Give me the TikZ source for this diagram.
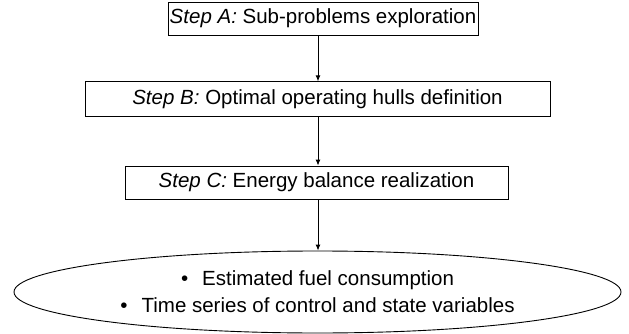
\documentclass[tikz,border=0pt]{standalone}
\usepackage{fontspec}
\setmainfont{Liberation Sans}
\usetikzlibrary{shapes.geometric,arrows.meta}
\begin{document}
\begin{tikzpicture}[x=1pt,y=-1pt,
  stepbox/.style={draw=black,line width=0.9pt,rectangle,inner sep=0pt,
    font=\fontsize{20.5}{27}\selectfont},
  outbox/.style={draw=black,line width=0.9pt,ellipse,inner sep=0pt,
    minimum width=607pt,minimum height=82pt,align=center,
    font=\fontsize{20.5}{27}\selectfont},
  conn/.style={draw=black,line width=0.9pt,-{Latex[length=6pt,width=5pt]}}]
\useasboundingbox (0,0) rectangle (629,334);
\node[stepbox,minimum width=310pt,minimum height=33pt] (a) at (323,18.5) {\textit{Step A:} Sub-problems exploration};
\node[stepbox,minimum width=465pt,minimum height=35pt] (b) at (317.5,99.3) {\textit{Step B:} Optimal operating hulls definition};
\node[stepbox,minimum width=383pt,minimum height=33pt] (c) at (316.5,182.5) {\textit{Step C:} Energy balance realization};
\node[outbox] (d) at (317.5,292) {•\hspace{14pt}Estimated fuel consumption\\•\hspace{14pt}Time series of control and state variables};
\draw[conn] (a.south -| 318,0) -- (b.north -| 318,0);
\draw[conn] (b.south -| 318,0) -- (c.north -| 318,0);
\draw[conn] (c.south -| 318,0) -- (d.north -| 318,0);
\end{tikzpicture}
\end{document}
